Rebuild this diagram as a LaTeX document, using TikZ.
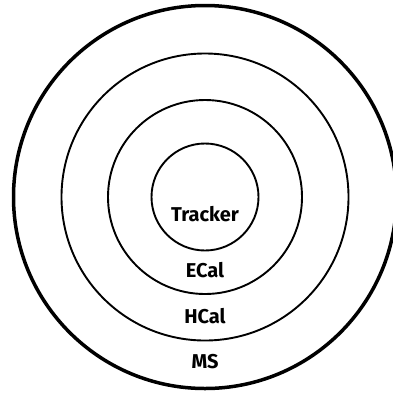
\documentclass[tikz,border=0pt]{standalone}
\usepackage{fontspec}
\setmainfont{Fira Sans}
\usetikzlibrary{positioning}

\begin{document}
\begin{tikzpicture}[x=1pt, y=1pt,
    layer/.style={circle, draw, line width=1.9pt, inner sep=0pt},
    layername/.style={font=\fontsize{20}{24}\selectfont\bfseries}]
    \useasboundingbox (0,0) rectangle (393,-392);
    \coordinate (ip) at (205,-197);
    \node[layer, minimum size=107pt] (tracker) at (ip) {};
    \node[layer, minimum size=194pt] (ecal) at (ip) {};
    \node[layer, minimum size=287pt] (hcal) at (ip) {};
    \node[layer, minimum size=383pt, line width=3.5pt] (ms) at (ip) {};
    \node[layername] (ltracker) at (205,-214) {Tracker};
    \node[layername] (lecal) at (205,-270) {ECal};
    \node[layername] (lhcal) at (205,-316) {HCal};
    \node[layername] (lms) at (205,-362) {MS};
\end{tikzpicture}
\end{document}
